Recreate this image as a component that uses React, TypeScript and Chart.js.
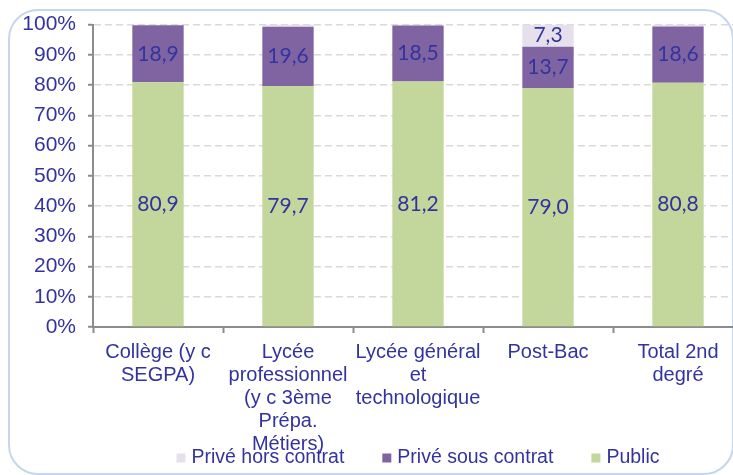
import React, { useEffect, useRef } from "react";
import { Chart, registerables } from "chart.js";

Chart.register(...registerables);

const categories: (string | string[])[] = [
  ["Collège (y c", "SEGPA)"],
  ["Lycée", "professionnel", "(y c 3ème", "Prépa.", "Métiers)"],
  ["Lycée général", "et", "technologique"],
  "Post-Bac",
  ["Total 2nd", "degré"],
];
const publicValues = [80.9, 79.7, 81.2, 79.0, 80.8];
const sousContratValues = [18.9, 19.6, 18.5, 13.7, 18.6];
const horsContratValues = [0.2, 0.7, 0.3, 7.3, 0.6];
const seriesNames = ["Privé hors contrat", "Privé sous contrat", "Public"];
const seriesColors = ["#E6E0EC", "#8064A2", "#C3D69B"];

const TEXT = "#3333A0";
const FONT = "'Liberation Sans', Arial, sans-serif";

export default function App() {
  const ref = useRef<HTMLCanvasElement | null>(null);

  useEffect(() => {
    if (!ref.current) return;

    const labelPlugin = {
      id: "valueLabels",
      afterDatasetsDraw(chart: any) {
        const ctx = chart.ctx;
        ctx.save();
        ctx.font = "21px Lato, 'Liberation Sans', sans-serif";
        ctx.fillStyle = TEXT;
        ctx.textAlign = "center";
        ctx.textBaseline = "middle";
        chart.data.datasets.forEach((ds: any, di: number) => {
          const meta = chart.getDatasetMeta(di);
          meta.data.forEach((bar: any, i: number) => {
            const v = ds.data[i];
            if (v < 5) return;
            const { x, y, base } = bar.getProps(["x", "y", "base"], true);
            ctx.fillText(v.toFixed(1).replace(".", ","), x, (y + base) / 2);
          });
        });
        ctx.restore();
      },
    };

    const legendPlugin = {
      id: "customLegend",
      afterDraw(chart: any) {
        const ctx = chart.ctx;
        const area = chart.chartArea;
        ctx.save();
        ctx.font = "19.5px " + FONT;
        ctx.textBaseline = "middle";
        const box = 9;
        const gapBoxText = 6;
        const gapItems = 38;
        const widths = seriesNames.map((n) => box + gapBoxText + ctx.measureText(n).width);
        const total = widths.reduce((a, b) => a + b, 0) + gapItems * (widths.length - 1);
        let x = (area.left + area.right) / 2 - total / 2;
        const y = 458;
        seriesNames.forEach((n, i) => {
          ctx.fillStyle = seriesColors[i];
          ctx.fillRect(x, y - box / 2, box, box);
          ctx.fillStyle = TEXT;
          ctx.textAlign = "left";
          ctx.fillText(n, x + box + gapBoxText, y);
          x += widths[i] + gapItems;
        });
        ctx.restore();
      },
    };

    const chart = new Chart(ref.current, {
      type: "bar",
      data: {
        labels: categories,
        datasets: [
          { label: seriesNames[2], data: publicValues, backgroundColor: seriesColors[2] },
          { label: seriesNames[1], data: sousContratValues, backgroundColor: seriesColors[1] },
          { label: seriesNames[0], data: horsContratValues, backgroundColor: seriesColors[0] },
        ],
      },
      options: {
        animation: false,
        responsive: false,
        layout: { padding: { top: 23, right: 7, left: 0, bottom: 0 } },
        datasets: { bar: { categoryPercentage: 1, barPercentage: 0.395 } },
        plugins: {
          legend: { display: false },
          tooltip: { enabled: false },
        },
        scales: {
          x: {
            stacked: true,
            grid: {
              offset: true,
              drawOnChartArea: false,
              drawTicks: true,
              tickLength: 6,
              tickColor: "#8C8C8C",
              tickWidth: 2,
            },
            border: { color: "#8C8C8C", width: 2 },
            ticks: {
              color: TEXT,
              font: { family: FONT, size: 20, lineHeight: 1.15 },
              maxRotation: 0,
              autoSkip: false,
              padding: 8,
            },
            afterFit(scale: any) {
              scale.height = 148;
            },
          },
          y: {
            stacked: true,
            min: 0,
            max: 100,
            ticks: {
              stepSize: 10,
              color: TEXT,
              font: { family: FONT, size: 21 },
              padding: 12,
              callback: (v: any) => v + "%",
            },
            grid: {
              color: "#D9D9D9",
              lineWidth: 1.5,
              tickColor: "#8C8C8C",
              tickWidth: 2,
              tickLength: 5,
              tickBorderDash: [],
            },
            border: { color: "#8C8C8C", width: 2, dash: [7, 4] },
            afterFit(scale: any) {
              scale.width = 93;
            },
          },
        },
      } as any,
      plugins: [labelPlugin, legendPlugin],
    });
    return () => chart.destroy();
  }, []);

  return (
    <div style={{ position: "fixed", left: 0, top: 0, width: 733, height: 475, overflow: "hidden", background: "#fff" }}>
      <div
        style={{
          position: "absolute",
          left: 8,
          top: 9,
          width: 722,
          height: 462,
          border: "2px solid #C6D6EC",
          borderRadius: 30,
        }}
      />
      <canvas ref={ref} width={750} height={475} style={{ position: "absolute", left: 0, top: 0, width: 750, height: 475 }} />
    </div>
  );
}
